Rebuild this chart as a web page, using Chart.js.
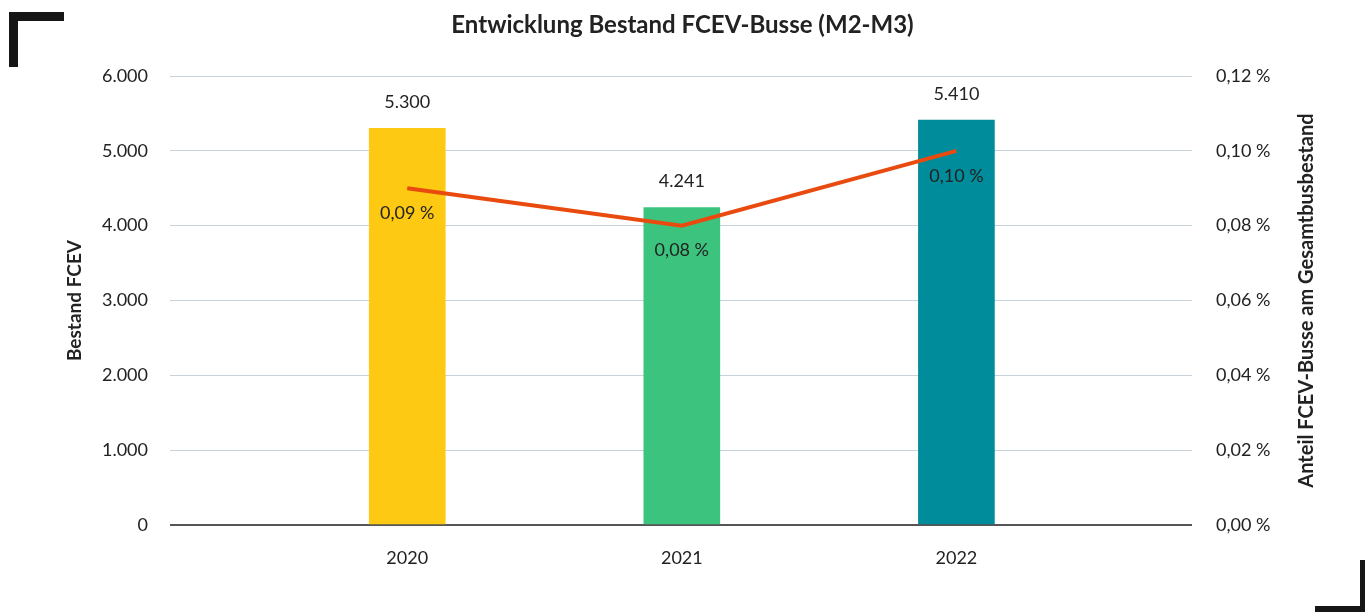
<!DOCTYPE html>
<html lang="de">
<head>
<meta charset="utf-8">
<title>Entwicklung Bestand FCEV-Busse</title>
<script src="https://cdn.jsdelivr.net/npm/chart.js@4/dist/chart.umd.min.js"></script>
<style>
  html, body { margin: 0; padding: 0; background: #fff; }
  #wrap { position: relative; width: 1365px; height: 612px; overflow: hidden; }
  .ecke { position: absolute; background: #161616; }
</style>
</head>
<body>
<div id="wrap">
  <canvas id="grafik" width="1365" height="612"></canvas>
  <!-- Eckmarken -->
  <div class="ecke" style="left:9px; top:12px; width:55px; height:9px;"></div>
  <div class="ecke" style="left:9px; top:12px; width:9px; height:55px;"></div>
  <div class="ecke" style="left:1315px; top:606px; width:50px; height:6px;"></div>
  <div class="ecke" style="left:1360px; top:560px; width:5px; height:52px;"></div>
</div>
<script>
// ---------------------------- Daten ----------------------------
const jahre = ['2020', '2021', '2022'];
const bestandFCEV = [5300, 4241, 5410];
const anteilProzent = [0.09, 0.08, 0.10];
const balkenFarben = ['#FDC913', '#3CC47F', '#008C9B'];
const linienFarbe = '#E94B0F';

const schrift = 'Lato, "Source Sans Pro", "Noto Sans", sans-serif';
const textFarbe = '#222222';

function tausender(v) {
    return String(Math.round(v)).replace(/\B(?=(\d{3})+(?!\d))/g, '.');
}
function prozent(v) {
    return v.toFixed(2).replace('.', ',') + ' %';
}

// Beschriftungen an Balken und Linie + rechter Achsentitel
const beschriftungPlugin = {
    id: 'beschriftung',
    afterDatasetsDraw(chart) {
        const ctx = chart.ctx;
        ctx.save();
        ctx.font = '18px ' + schrift;
        ctx.fillStyle = textFarbe;
        ctx.textAlign = 'center';
        ctx.textBaseline = 'middle';

        chart.getDatasetMeta(0).data.forEach((el, i) => {
            ctx.fillText(tausender(bestandFCEV[i]), el.x, el.y - 26);
        });
        chart.getDatasetMeta(1).data.forEach((el, i) => {
            ctx.fillText(prozent(anteilProzent[i]), el.x, el.y + 25);
        });

        // rechter Titel, von unten nach oben gelesen
        const area = chart.chartArea;
        ctx.font = 'bold 20px ' + schrift;
        ctx.translate(1307, (area.top + area.bottom) / 2);
        ctx.rotate(-Math.PI / 2);
        ctx.fillText('Anteil FCEV-Busse am Gesamtbusbestand', 0, 0);
        ctx.restore();
    }
};

const ctx = document.getElementById('grafik').getContext('2d');

new Chart(ctx, {
    data: {
        datasets: [
            {
                type: 'bar',
                label: 'Bestand FCEV',
                data: bestandFCEV.map((v, i) => ({ x: i, y: v })),
                backgroundColor: balkenFarben,
                barThickness: 76,
                yAxisID: 'y',
                order: 1
            },
            {
                type: 'line',
                label: 'Anteil',
                data: anteilProzent.map((v, i) => ({ x: i, y: v })),
                borderColor: linienFarbe,
                borderWidth: 4,
                pointRadius: 0,
                tension: 0,
                fill: false,
                yAxisID: 'y1',
                order: 0
            }
        ]
    },
    options: {
        responsive: false,
        animation: false,
        layout: { padding: 0 },
        plugins: {
            legend: { display: false },
            tooltip: { enabled: false },
            title: {
                display: true,
                text: 'Entwicklung Bestand FCEV-Busse (M2-M3)',
                color: textFarbe,
                font: { family: schrift, size: 24, weight: 'bold' },
                padding: { top: 11, bottom: 36.2 }
            }
        },
        scales: {
            x: {
                type: 'linear',
                offset: false,
                min: -0.864,
                max: 2.858,
                grid: { display: false, drawTicks: false },
                border: { display: false },
                afterBuildTicks: (scale) => {
                    scale.ticks = jahre.map((j, i) => ({ value: i }));
                },
                afterFit: (scale) => { scale.height = 87; },
                ticks: {
                    padding: 22,
                    color: textFarbe,
                    font: { family: schrift, size: 18 },
                    callback: (v) => jahre[v]
                }
            },
            y: {
                position: 'left',
                min: 0,
                max: 6000,
                afterFit: (scale) => { scale.width = 170; },
                grid: {
                    drawTicks: false,
                    color: (c) => c.tick.value === 0 ? '#555555' : '#C6D3DB',
                    lineWidth: (c) => c.tick.value === 0 ? 2 : 1
                },
                border: { display: false },
                ticks: {
                    stepSize: 1000,
                    padding: 22,
                    color: textFarbe,
                    font: { family: schrift, size: 18 },
                    callback: (v) => tausender(v)
                },
                title: {
                    display: true,
                    text: 'Bestand FCEV',
                    color: textFarbe,
                    font: { family: schrift, size: 19, weight: 'bold' },
                    padding: { top: 63, bottom: 0 }
                }
            },
            y1: {
                position: 'right',
                min: 0,
                max: 0.12,
                afterFit: (scale) => { scale.width = 173; },
                grid: { display: false, drawTicks: false },
                border: { display: false },
                ticks: {
                    stepSize: 0.02,
                    padding: 24,
                    color: textFarbe,
                    font: { family: schrift, size: 18 },
                    callback: (v) => prozent(v)
                }
            }
        }
    },
    plugins: [beschriftungPlugin]
});
</script>
</body>
</html>
